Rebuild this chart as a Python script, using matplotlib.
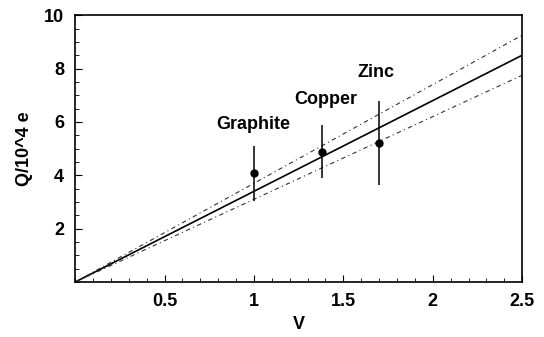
import numpy as np
import matplotlib.pyplot as plt
from matplotlib.ticker import MultipleLocator

# metals: photo-emission charge vs voltage
metals = ["Graphite", "Copper", "Zinc"]
volts = [1.0, 1.378, 1.7]
charge = [4.1, 4.87, 5.22]
err_lo = [1.05, 0.97, 1.6]
err_hi = [1.0, 1.03, 1.58]

# fitted slope and its band (Q/10^4 e per V)
slope = 3.4
slope_hi = 3.7
slope_lo = 3.1

label_xy = [(0.79, 5.9), (1.225, 6.85), (1.58, 7.85)]

plt.rcParams['font.family'] = ['Liberation Sans', 'DejaVu Sans']
plt.rcParams['font.weight'] = 'bold'

fig = plt.figure(figsize=(5.44, 3.37), dpi=100)
ax = fig.add_axes([0.138, 0.163, 0.822, 0.792])

v = np.array([0, 2.5])
ax.plot(v, slope * v, color="black", lw=1.2)
ax.plot(v, slope_hi * v, color="#333333", lw=0.8, ls=(0, (4, 3, 1, 3)))
ax.plot(v, slope_lo * v, color="#333333", lw=0.8, ls=(0, (4, 3, 1, 3)))

ax.errorbar(volts, charge, yerr=[err_lo, err_hi], fmt="o", color="black",
            ms=5, elinewidth=1.1, capsize=0)

for name, (x, y) in zip(metals, label_xy):
    ax.text(x, y, name, fontsize=13, fontweight="bold", ha="left",
            va="center")

ax.set_xlim(0, 2.5)
ax.set_ylim(0, 10)
ax.set_xticks([0.5, 1, 1.5, 2, 2.5])
ax.set_xticklabels(["0.5", "1", "1.5", "2", "2.5"])
ax.set_yticks([2, 4, 6, 8, 10])
ax.xaxis.set_minor_locator(MultipleLocator(0.1))
ax.yaxis.set_minor_locator(MultipleLocator(0.5))
ax.tick_params(which="both", direction="in", top=False, right=False,
               labelsize=13)
ax.tick_params(which="major", length=5, pad=8)
ax.tick_params(which="minor", length=3)
for sp in ax.spines.values():
    sp.set_linewidth(1.2)

ax.set_xlabel("V", fontsize=13, fontweight="bold", labelpad=4)
ax.set_ylabel("Q/10^4 e", fontsize=13, fontweight="bold", labelpad=8)

fig.savefig("out.png", dpi=100)
